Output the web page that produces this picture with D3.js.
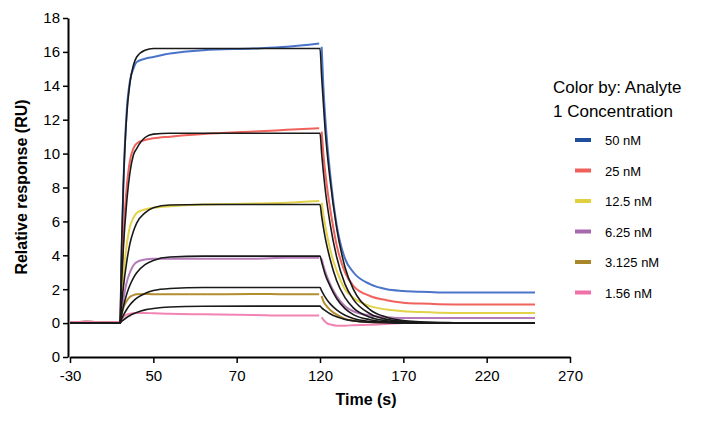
<!DOCTYPE html><html><head><meta charset="utf-8"><script src="https://cdn.jsdelivr.net/npm/d3@7"></script>
<style>body{margin:0;background:#fff}text{font-family:"Liberation Sans",Arial,sans-serif}</style></head><body><svg id="c" width="711" height="422"></svg>
<script>
const xTickVals=[-30,20,70,120,170,220,270];
const xTickLabels=["-30","50","70","120","170","220","270"];
const yTickVals=[-2,0,2,4,6,8,10,12,14,16,18];
const yTickLabels=["0","0","2","4","6","8","10","12","14","16","18"];
const concentrations=["50 nM","25 nM","12.5 nM","6.25 nM","3.125 nM","1.56 nM"];
const lineColors=["#4a74c9","#f0625c","#e2d24a","#b57ab9","#b38e30","#f284b4"];
const swatchColors=["#1f4e9c","#f0605a","#e0d040","#a86aae","#a8862a","#f070a8"];
const tPre=[-30,-20,-10,-5,0];
const tAssoc=[0,1,2,4,6,8,10,15,20,30,50,80,100,119.5];
const tDiss=[121,122,124,127,130,135,140,150,160,170,180,200,220,249];
const tFitDiss=[120,121,123,126,130,135,140,150,160,170,180,200,220,249];
const measPre=[0.05,0.08,0.04,0.05,0.08];
const measAssoc=[
[0.1,4,8,12.5,14.3,15.0,15.4,15.6,15.7,15.9,16.1,16.2,16.3,16.5],
[0.1,2.8,5,8,9.6,10.3,10.6,10.8,10.9,11.0,11.15,11.3,11.4,11.5],
[0.1,1.5,2.8,4.6,5.7,6.2,6.5,6.7,6.8,6.9,7.0,7.05,7.1,7.2],
[0.1,0.8,1.4,2.4,3.0,3.4,3.6,3.75,3.8,3.8,3.8,3.8,3.85,3.85],
[0.05,0.5,0.9,1.3,1.55,1.65,1.7,1.72,1.7,1.7,1.7,1.72,1.7,1.7],
[0,0.2,0.35,0.5,0.55,0.58,0.6,0.6,0.58,0.55,0.52,0.48,0.45,0.45]];
const measDiss=[
[16.3,14,11,8,5.8,3.8,3.0,2.3,2.0,1.9,1.85,1.8,1.8,1.8],
[11.3,10,8.2,6.2,4.6,3.0,2.2,1.6,1.35,1.2,1.15,1.1,1.1,1.1],
[7.1,6.4,5.3,4.0,3.1,2.0,1.5,1.0,0.8,0.7,0.65,0.6,0.6,0.6],
[3.8,3.4,2.8,2.1,1.6,1.0,0.7,0.45,0.35,0.3,0.3,0.3,0.3,0.3],
[1.6,1.3,1.0,0.7,0.5,0.25,0.15,0.05,0.02,0,0,0,0,0],
[0.35,0.2,0.0,-0.1,-0.15,-0.15,-0.12,-0.1,-0.05,0,0,0,0,0]];
const fitAssoc=[
[0,4.8,8.1,12.2,14.2,15.2,15.7,16.1,16.2,16.2,16.2,16.2,16.2,16.2],
[0,2.5,4.4,7.1,8.9,9.9,10.3,10.95,11.15,11.2,11.2,11.2,11.2,11.2],
[0,1.15,2.1,3.6,4.7,5.4,5.9,6.5,6.8,6.97,7,7,7,7],
[0,0.52,0.96,1.7,2.25,2.66,2.97,3.45,3.7,3.9,3.95,3.95,3.95,3.95],
[0,0.24,0.45,0.8,1.08,1.3,1.47,1.75,1.92,2.04,2.1,2.1,2.1,2.1],
[0,0.1,0.18,0.33,0.45,0.55,0.63,0.78,0.86,0.95,0.99,1,1,1]];
const fitDiss=[
[16.2,14.5,11.5,8.5,5.6,3.3,2.0,0.8,0.35,0.15,0.08,0.02,0,0],
[11.2,10,8,5.9,3.9,2.3,1.4,0.55,0.22,0.09,0.04,0.01,0,0],
[7,6.3,5.1,3.8,2.5,1.5,0.9,0.35,0.14,0.05,0.02,0,0,0],
[3.95,3.6,2.9,2.2,1.45,0.85,0.5,0.2,0.08,0.03,0.01,0,0,0],
[2.1,1.9,1.55,1.15,0.78,0.46,0.27,0.1,0.04,0.01,0,0,0,0],
[1.0,0.9,0.75,0.55,0.37,0.22,0.13,0.05,0.02,0,0,0,0,0]];

const svg=d3.select("#c");
const x=d3.scaleLinear().domain([-30,270]).range([70,570]);
const y=d3.scaleLinear().domain([-2,18]).range([357,18]);
const line=d3.line().x(d=>x(d[0])).y(d=>y(d[1])).curve(d3.curveMonotoneX);
const zip=(t,v)=>t.map((tt,i)=>[tt,v[i]]);
const g=svg.append("g");
concentrations.forEach((c,i)=>{
  g.append("path").attr("d",line(zip(tPre,measPre).concat(zip(tAssoc,measAssoc[i]).slice(1))))
   .attr("fill","none").attr("stroke",lineColors[i]).attr("stroke-width",2);
  g.append("path").attr("d",line(zip(tDiss,measDiss[i])))
   .attr("fill","none").attr("stroke",lineColors[i]).attr("stroke-width",2);
});
concentrations.forEach((c,i)=>{
  const pts=[[-30,0],[0,0]].concat(zip(tAssoc,fitAssoc[i]).slice(1),zip(tFitDiss,fitDiss[i]));
  g.append("path").attr("d",line(pts)).attr("fill","none").attr("stroke","#1a1a1a").attr("stroke-width",1.6);
});
const xa=svg.append("g").attr("transform","translate(0,357)")
  .call(d3.axisBottom(x).tickValues(xTickVals).tickFormat((d,i)=>xTickLabels[i]).tickSize(6).tickSizeOuter(0));
const ya=svg.append("g").attr("transform","translate(68,0)")
  .call(d3.axisLeft(y).tickValues(yTickVals).tickFormat((d,i)=>yTickLabels[i]).tickSize(5).tickSizeOuter(0));
[xa,ya].forEach(a=>{a.select(".domain").attr("stroke","#000").attr("stroke-width",2);
  a.selectAll("line").attr("stroke","#000").attr("stroke-width",1.5);
  a.selectAll("text").attr("font-size",15).attr("fill","#000").attr("font-family","Liberation Sans, Arial");});
xa.selectAll("text").attr("dy","1.0em");
svg.append("text").attr("x",366).attr("y",405).attr("text-anchor","middle").attr("font-size",16).attr("font-weight","bold").text("Time (s)");
svg.append("text").attr("transform","translate(27,187) rotate(-90)").attr("text-anchor","middle").attr("font-size",16).attr("font-weight","bold").text("Relative response (RU)");
svg.append("text").attr("x",553).attr("y",93).attr("font-size",17).text("Color by: Analyte");
svg.append("text").attr("x",553).attr("y",117).attr("font-size",17).text("1 Concentration");
concentrations.forEach((c,i)=>{
  const yy=140+i*30.5;
  svg.append("rect").attr("x",575).attr("y",yy-2).attr("width",16).attr("height",4).attr("fill",swatchColors[i]);
  svg.append("text").attr("x",605).attr("y",yy+5).attr("font-size",13).text(c);
});
</script></body></html>
